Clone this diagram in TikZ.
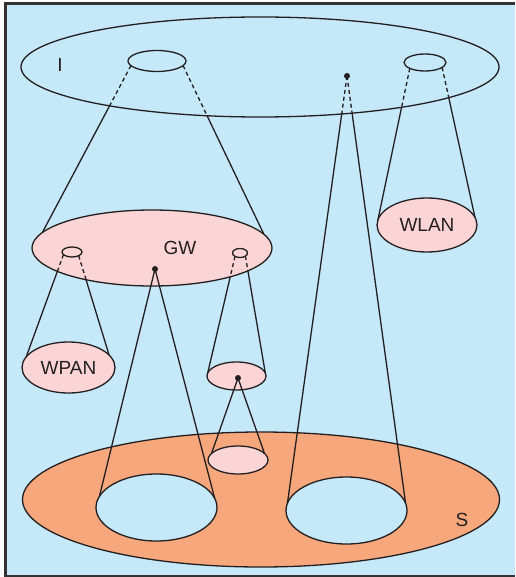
\documentclass[tikz,border=0pt]{standalone}
\usepackage{fontspec}
\setmainfont{Liberation Sans}
\usetikzlibrary{shapes.geometric}

\definecolor{skyfill}{RGB}{197,233,248}
\definecolor{pinkfill}{RGB}{251,213,213}
\definecolor{orangefill}{RGB}{246,168,124}
\definecolor{inkline}{RGB}{35,31,32}
\definecolor{framecol}{RGB}{50,50,50}

% connectors of the outer (I) level: hidden inside I, visible below it
\newcommand\toplinks{%
  \draw (ismallL.190) -- (gw.172);
  \draw (ismallL.350) -- (gw.7);
  \draw (ismallR.201) -- (wlan.174);
  \draw (ismallR.344) -- (wlan.9);
  \draw (ipt) -- (rhole.173);
  \draw (ipt) -- (rhole.7);
}
% connectors leaving the gateway through its small discs
\newcommand\gwlinks{%
  \draw (gsmallL.197) -- (wpan.166);
  \draw (gsmallL.331) -- (wpan.17);
  \draw (gsmallR.214) -- (midcell.174);
  \draw (gsmallR.330) -- (midcell.6);
}

\begin{document}
\begin{tikzpicture}[x=1pt,y=-1pt,
  line width=1.3pt, draw=inkline,
  every node/.style={inner sep=0pt, outer sep=0pt},
  ring/.style={ellipse, draw=inkline, line width=1.3pt},
  pinkring/.style={ring, fill=pinkfill},
  skyring/.style={ring, fill=skyfill},
  hub/.style={circle, fill=inkline, minimum size=6pt},
  labeltext/.style={font=\fontsize{19}{21}\selectfont, text=inkline},
  hiddenline/.style={dash pattern=on 4pt off 3pt}
]
\useasboundingbox (0,0) rectangle (515,577);

% background panel and its frame (open on the right)
\fill[skyfill] (5.5,3.3) rectangle (515,576.3);
\draw[framecol, line width=2.6pt] (515,3.3) -- (5.5,3.3) -- (5.5,576.3) -- (515,576.3);

% hub positions
\coordinate (ipt) at (347,76);
\coordinate (gpt) at (155,269);
\coordinate (mpt) at (238,378);

% level I
\node[ring, minimum width=478pt, minimum height=100pt] (inet) at (260,67) {};
\node[labeltext] (ilabel) at (60,65) {I};
\node[ring, minimum width=58pt, minimum height=21pt] (ismallL) at (157,61) {};
\node[ring, minimum width=42pt, minimum height=17pt] (ismallR) at (425,62.5) {};

% gateway
\node[pinkring, minimum width=240pt, minimum height=76pt] (gw) at (152,248) {};
\node[labeltext] (gwlabel) at (180,248) {GW};
\node[ring, minimum width=20pt, minimum height=10pt] (gsmallL) at (72,252) {};
\node[ring, minimum width=15pt, minimum height=9pt] (gsmallR) at (240,253) {};

% access networks
\node[pinkring, labeltext, minimum width=100pt, minimum height=54pt] (wlan) at (427,225) {WLAN};
\node[pinkring, labeltext, minimum width=93pt, minimum height=51pt] (wpan) at (68.5,367.5) {WPAN};
\node[pinkring, minimum width=59pt, minimum height=28pt] (midcell) at (236.5,376) {};

% level S
\node[ring, fill=orangefill, minimum width=477pt, minimum height=135pt] (splane) at (261,499.5) {};
\node[labeltext] (slabel) at (462,520) {S};
\node[skyring, minimum width=121pt, minimum height=67pt] (lhole) at (156.5,507.5) {};
\node[skyring, minimum width=121pt, minimum height=67pt] (rhole) at (346.5,510.5) {};
\node[pinkring, minimum width=60pt, minimum height=28pt] (lowcell) at (238,460) {};

% I-level connectors: dashed inside I, solid outside
\begin{scope}
  \clip (260,67) ellipse [x radius=239, y radius=50];
  \begin{scope}[hiddenline] \toplinks \end{scope}
\end{scope}
\begin{scope}[even odd rule]
  \clip (0,0) rectangle (515,577) (260,67) ellipse [x radius=239, y radius=50];
  \toplinks
\end{scope}

% gateway connectors: dashed inside GW, solid outside
\begin{scope}
  \clip (152,248) ellipse [x radius=120, y radius=38];
  \begin{scope}[hiddenline] \gwlinks \end{scope}
\end{scope}
\begin{scope}[even odd rule]
  \clip (0,0) rectangle (515,577) (152,248) ellipse [x radius=120, y radius=38];
  \gwlinks
\end{scope}

% solid cones from the hubs
\draw (gpt) -- (lhole.169);
\draw (gpt) -- (lhole.9);
\draw (mpt) -- (lowcell.166);
\draw (mpt) -- (lowcell.14);

% hubs on top of their lines
\node[hub] (idot) at (ipt) {};
\node[hub] (gdot) at (gpt) {};
\node[hub] (mdot) at (mpt) {};
\end{tikzpicture}
\end{document}
